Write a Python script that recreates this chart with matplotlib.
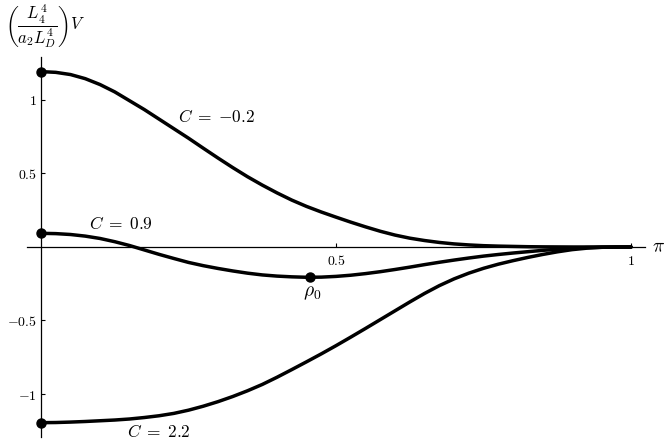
import matplotlib
matplotlib.use("Agg")
import matplotlib.pyplot as plt

plt.rcParams["mathtext.fontset"] = "cm"
plt.rcParams["font.family"] = "serif"
plt.rcParams["font.serif"] = ["DejaVu Serif"]

# values, rho step 0.025
rho = [0.0, 0.025, 0.05, 0.075, 0.10, 0.125, 0.15, 0.175, 0.20, 0.225,
       0.25, 0.275, 0.30, 0.325, 0.35, 0.375, 0.40, 0.425, 0.45, 0.475,
       0.50, 0.525, 0.55, 0.575, 0.60, 0.625, 0.65, 0.675, 0.70, 0.725,
       0.75, 0.775, 0.80, 0.825, 0.85, 0.875, 0.90, 0.925, 0.95, 0.975, 1.0]
v_c_m02 = [1.193, 1.188, 1.173, 1.145, 1.105, 1.055, 0.995, 0.935, 0.87, 0.805,
           0.74, 0.672, 0.605, 0.54, 0.478, 0.421, 0.368, 0.319, 0.276, 0.238,
           0.203, 0.169, 0.137, 0.107, 0.081, 0.06, 0.044, 0.031, 0.021, 0.014,
           0.009, 0.006, 0.004, 0.002, 0.001, 0.0005, 0.0, 0.0, 0.0, 0.0, 0.0]
v_c_09 = [0.093, 0.091, 0.085, 0.074, 0.058, 0.036, 0.01, -0.02, -0.05, -0.078,
          -0.105, -0.127, -0.146, -0.163, -0.178, -0.19, -0.198, -0.203, -0.206, -0.205,
          -0.2, -0.192, -0.181, -0.168, -0.153, -0.137, -0.12, -0.104, -0.089, -0.075,
          -0.062, -0.051, -0.041, -0.032, -0.023, -0.015, -0.009, -0.004, -0.002, -0.001, 0.0]
v_c_22 = [-1.195, -1.194, -1.191, -1.187, -1.182, -1.177, -1.17, -1.16, -1.148, -1.132,
          -1.11, -1.083, -1.052, -1.017, -0.978, -0.935, -0.886, -0.834, -0.781, -0.727,
          -0.671, -0.613, -0.554, -0.494, -0.434, -0.374, -0.316, -0.263, -0.217, -0.178,
          -0.145, -0.117, -0.093, -0.071, -0.051, -0.033, -0.018, -0.008, -0.002, 0.0, 0.0]
rho0 = (0.456, -0.206)

xticks = [0.5, 1]
xtick_labels = [r"$0.5$", r"$1$"]
yticks = [-1, -0.5, 0.5, 1]
ytick_labels = [r"$-1$", r"$-0.5$", r"$0.5$", r"$1$"]


def main():
    fig = plt.figure(figsize=(6.72, 4.46), dpi=100)
    ax = fig.add_axes([0.0347, 0.0177, 0.9307, 0.857])
    ax.set_xlim(-0.03, 1.03)
    ax.set_ylim(-1.3, 1.3)

    for v in (v_c_m02, v_c_09, v_c_22):
        ax.plot(rho, v, color="black", lw=2.5, solid_capstyle="round",
                solid_joinstyle="round", zorder=3)
        ax.plot(rho[0], v[0], "o", color="black", ms=6.5, zorder=4, clip_on=False)
    ax.plot(*rho0, "o", color="black", ms=6.5, zorder=4)

    # axes through the origin
    for side in ("top", "right"):
        ax.spines[side].set_visible(False)
    ax.spines["left"].set_position(("data", 0))
    ax.spines["bottom"].set_position(("data", 0))
    ax.spines["left"].set_bounds(-1.29, 1.29)
    ax.spines["bottom"].set_bounds(-0.024, 1.023)
    for side in ("left", "bottom"):
        ax.spines[side].set_linewidth(0.9)

    ax.set_xticks(xticks)
    ax.set_xticklabels(xtick_labels, fontsize=10)
    ax.set_yticks(yticks)
    ax.set_yticklabels(ytick_labels, fontsize=10)
    ax.tick_params(axis="both", direction="in", length=3, width=0.8, pad=3)
    ax.tick_params(axis="x", pad=5)

    ax.text(0.232, 0.878, r"$C\;=\;{-0.2}$", fontsize=12.5, va="center", ha="left")
    ax.text(0.081, 0.15, r"$C\;=\;0.9$", fontsize=12.5, va="center", ha="left")
    ax.text(0.146, -1.265, r"$C\;=\;2.2$", fontsize=12.5, va="center", ha="left")
    ax.text(0.459, -0.313, r"$\rho_0$", fontsize=14, va="center", ha="center")
    ax.text(1.046, 0.0, r"$\pi$", fontsize=14, va="center", ha="center", clip_on=False)
    fig.text(0.007, 0.94, r"$\left(\dfrac{L_4^4}{a_2 L_D^4}\right) V$", fontsize=12,
             va="center", ha="left")

    fig.savefig("out.png", dpi=100)


if __name__ == "__main__":
    main()
